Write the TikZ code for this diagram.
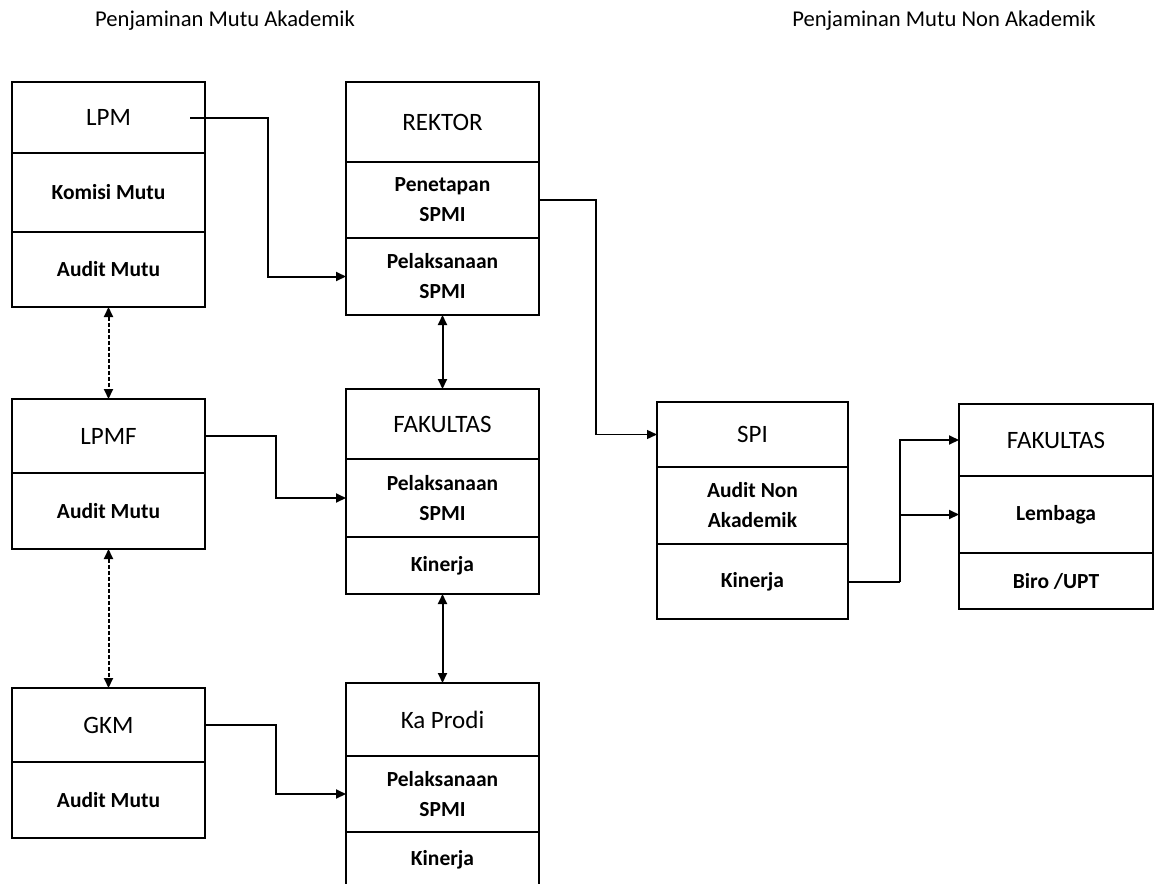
\documentclass[tikz,border=0pt]{standalone}
\usepackage{fontspec}
\setmainfont{Carlito}
\usetikzlibrary{positioning,arrows.meta}

\tikzset{
  head/.style={draw, line width=1.3pt, outer sep=0pt, inner sep=0pt, minimum width=96.5pt,
    font=\fontsize{12.5}{15}\selectfont},
  cell/.style={draw, line width=1.3pt, outer sep=0pt, inner sep=0pt, minimum width=96.5pt,
    align=center, font=\bfseries\fontsize{10.75}{15}\selectfont},
  link/.style={line width=1pt},
  thinlink/.style={line width=0.7pt},
  dotlink/.style={line width=1pt, dash pattern=on 2pt off 1pt},
  title/.style={anchor=base, font=\fontsize{11.3}{13}\selectfont}
}

\begin{document}
\begin{tikzpicture}[x=0.5pt, y=-0.5pt, >={Triangle[length=5pt,width=4.5pt]}]
  \useasboundingbox (0,0) rectangle (1158,884);
  % judul
  \node[title] (tak) at (225,26) {Penjaminan Mutu Akademik};
  \node[title] (tnon) at (944,26) {Penjaminan Mutu Non Akademik};

  % kolom kiri
  \node[head, anchor=north, minimum height=35.5pt] (lpm) at (108.5,82) {LPM};
  \node[cell, below=0pt of lpm, minimum height=39.5pt] (lpmkom) {Komisi Mutu};
  \node[cell, below=0pt of lpmkom, minimum height=37.5pt] (lpmaud) {Audit Mutu};

  \node[head, anchor=north, minimum height=37pt] (lpmf) at (108.5,399) {LPMF};
  \node[cell, below=0pt of lpmf, minimum height=38pt] (lpmfaud) {Audit Mutu};

  \node[head, anchor=north, minimum height=37pt] (gkm) at (108.5,688) {GKM};
  \node[cell, below=0pt of gkm, minimum height=38pt] (gkmaud) {Audit Mutu};

  % kolom tengah
  \node[head, anchor=north, minimum height=40pt] (rek) at (442.5,82) {REKTOR};
  \node[cell, below=0pt of rek, minimum height=38pt] (rekpen) {Penetapan\\SPMI};
  \node[cell, below=0pt of rekpen, minimum height=38.5pt] (rekpel) {Pelaksanaan\\SPMI};

  \node[head, anchor=north, minimum height=35pt] (fak) at (442.5,389) {FAKULTAS};
  \node[cell, below=0pt of fak, minimum height=39pt] (fakpel) {Pelaksanaan\\SPMI};
  \node[cell, below=0pt of fakpel, minimum height=28.5pt] (fakkin) {Kinerja};

  \node[head, anchor=north, minimum height=36.5pt] (kp) at (442.5,683) {Ka Prodi};
  \node[cell, below=0pt of kp, minimum height=38pt] (kppel) {Pelaksanaan\\SPMI};
  \node[cell, below=0pt of kppel, minimum height=28pt] (kpkin) {Kinerja};

  % non akademik
  \node[head, anchor=north, minimum width=95.5pt, minimum height=32.5pt] (spi) at (752.5,402) {SPI};
  \node[cell, below=0pt of spi, minimum width=95.5pt, minimum height=38.5pt] (spiaud) {Audit Non\\Akademik};
  \node[cell, below=0pt of spiaud, minimum width=95.5pt, minimum height=37.5pt] (spikin) {Kinerja};

  \node[head, anchor=north, minimum width=97pt, minimum height=36pt] (fak2) at (1056,404) {FAKULTAS};
  \node[cell, below=0pt of fak2, minimum width=97pt, minimum height=38.5pt] (fak2lem) {Lembaga};
  \node[cell, below=0pt of fak2lem, minimum width=97pt, minimum height=28pt] (fak2biro) {Biro /UPT};

  % penghubung
  \draw[link, ->] ([xshift=-7.5pt]lpm.east) -- ++(78,0) |- (rekpel.west);
  \draw[thinlink, ->] (rekpen.east) -- ++(57,0) |- (spi.west);
  \draw[link, ->] (lpmf.east) -- ++(71,0) |- (fakpel.west);
  \draw[link, ->] (gkm.east) -- ++(71,0) |- (kppel.west);
  \draw[link] (spikin.east) -- ++(52,0) coordinate (cab);
  \draw[link, ->] (cab) |- (fak2.west);
  \draw[link, ->] (cab) |- (fak2lem.west);

  \draw[dotlink, <->] (lpmaud.south) -- (lpmf.north);
  \draw[dotlink, <->] (lpmfaud.south) -- (gkm.north);
  \draw[link, <->] (rekpel.south) -- (fak.north);
  \draw[link, <->] (fakkin.south) -- (kp.north);
\end{tikzpicture}
\end{document}
